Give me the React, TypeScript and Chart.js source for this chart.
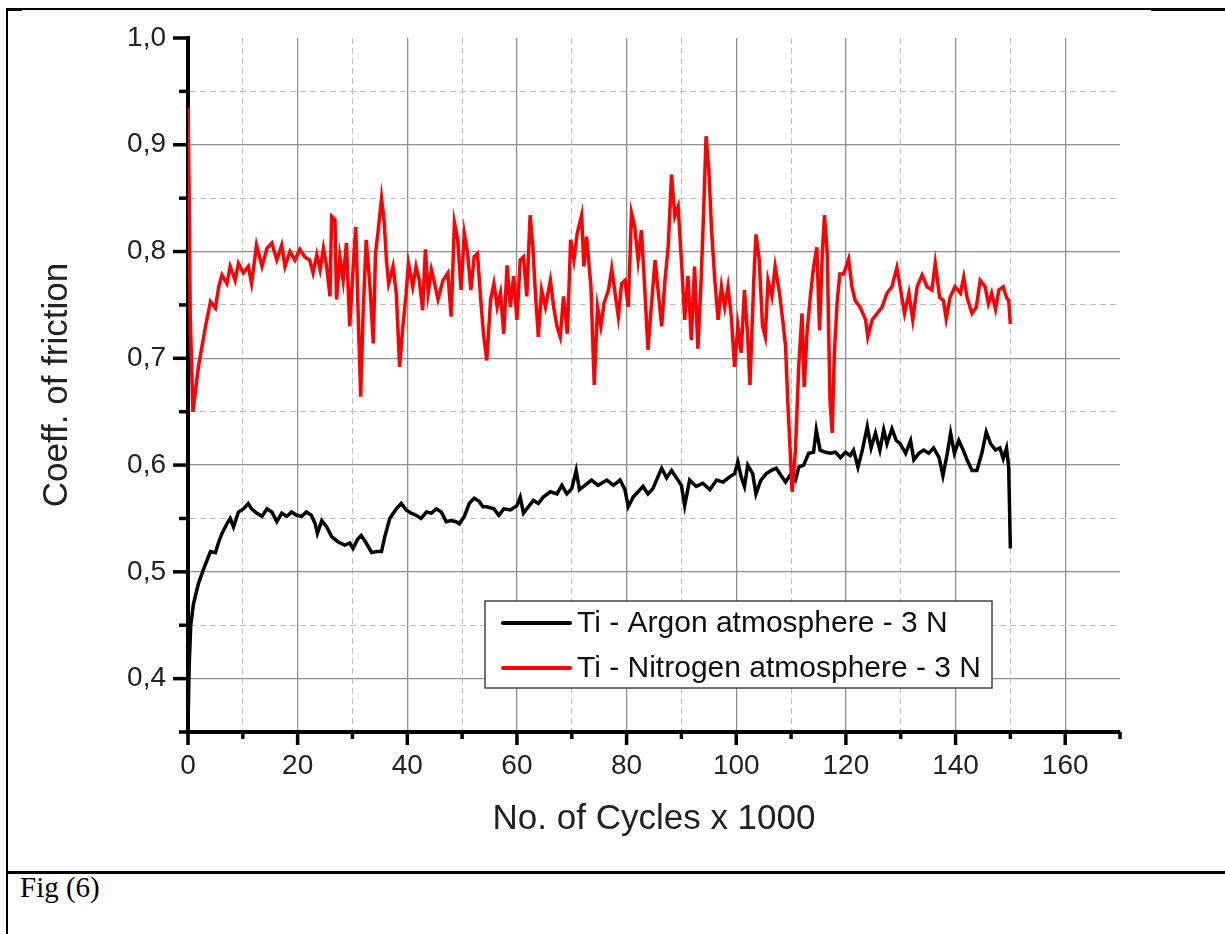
import React, { useEffect, useRef } from 'react';
import { Chart, registerables } from 'chart.js';

Chart.register(...registerables);

// ---- Data ----
const argonLabel = 'Ti - Argon atmosphere - 3 N';
const nitrogenLabel = 'Ti - Nitrogen atmosphere - 3 N';
const xTitle = 'No. of Cycles x 1000';
const yTitle = 'Coeff. of friction';
const caption = 'Fig (6)';

const xMin = 0;
const xMax = 170;
const xStep = 10;
const xMajorStep = 20;
const yMin = 0.35;
const yMax = 1.0;
const yStep = 0.05;

const argonX = [
  0, 0.2, 0.5, 1.0, 1.9, 2.8, 4.1, 5, 5.6, 6.2, 7.1, 7.7, 8.3, 9.2, 10.1, 11, 11.6, 12.5, 13.5, 14.4,
  15.3, 16.2, 17.1, 18, 18.9, 19.8, 20.7, 21.6, 22.5, 23.2, 23.6, 24.4, 25.3, 26.2, 27.4, 28.6, 29.5, 30.1, 31, 31.6,
  32.5, 33.5, 34.4, 35.3, 35.9, 36.8, 38, 38.9, 39.8, 40.7, 41.6, 42.5, 43.5, 44.4, 45.3, 46.2, 47.1, 48, 48.9, 49.5,
  50.4, 51.3, 52.2, 53.1, 53.8, 54.5, 55.8, 56.7, 57.6, 58.8, 60, 60.6, 61.2, 62.1, 63, 63.9, 64.8, 66.1, 67.3, 68.2,
  69.1, 70, 70.8, 71.4, 72.4, 73.6, 74.8, 76.4, 77.6, 78.8, 79.7, 80.3, 81.2, 82.1, 83, 83.9, 84.8, 85.8, 86.4, 87.3,
  88.2, 89.1, 90, 90.6, 91.5, 92.7, 93.9, 95.2, 96.4, 97.6, 98.8, 99.7, 100.3, 100.9, 101.5, 102.1, 103, 103.6, 104.5, 105.5,
  106.4, 107.3, 108.2, 109, 110, 110.8, 111.4, 112.3, 113.2, 114.1, 114.6, 115.3, 116.3, 117.2, 118.1, 119, 119.9, 120.8, 121.4, 122.2,
  123, 123.9, 124.6, 125.4, 126.2, 126.9, 127.5, 128.4, 129.2, 129.9, 130.9, 131.8, 132.4, 133.3, 134.2, 135.1, 136, 137, 137.7, 138.5,
  139.1, 139.8, 140.6, 141.4, 142.1, 143, 143.9, 144.8, 145.6, 146.4, 147.3, 148.1, 148.7, 149.3, 149.7, 150,
];
const argonY = [
  0.355, 0.41, 0.45, 0.47, 0.489, 0.502, 0.519, 0.518, 0.528, 0.536, 0.545, 0.55, 0.542, 0.556, 0.559, 0.564, 0.559, 0.555, 0.552, 0.559,
  0.556, 0.547, 0.555, 0.552, 0.556, 0.553, 0.552, 0.556, 0.553, 0.545, 0.536, 0.548, 0.542, 0.533, 0.528, 0.525, 0.527, 0.522, 0.531, 0.534,
  0.527, 0.518, 0.519, 0.519, 0.533, 0.55, 0.559, 0.564, 0.558, 0.555, 0.553, 0.55, 0.556, 0.555, 0.559, 0.556, 0.547, 0.548, 0.547, 0.545,
  0.552, 0.564, 0.569, 0.566, 0.561, 0.561, 0.559, 0.553, 0.559, 0.558, 0.562, 0.57, 0.555, 0.561, 0.567, 0.564, 0.57, 0.575, 0.573, 0.581,
  0.573, 0.578, 0.595, 0.577, 0.581, 0.586, 0.581, 0.586, 0.581, 0.586, 0.577, 0.561, 0.57, 0.575, 0.58, 0.573, 0.578, 0.59, 0.597, 0.588,
  0.595, 0.588, 0.581, 0.562, 0.586, 0.58, 0.583, 0.577, 0.586, 0.584, 0.589, 0.592, 0.603, 0.589, 0.58, 0.6, 0.592, 0.573, 0.586, 0.592,
  0.595, 0.597, 0.59, 0.584, 0.592, 0.586, 0.598, 0.6, 0.611, 0.612, 0.633, 0.614, 0.612, 0.611, 0.612, 0.607, 0.612, 0.609, 0.614, 0.598,
  0.614, 0.636, 0.616, 0.63, 0.614, 0.633, 0.62, 0.634, 0.623, 0.62, 0.611, 0.623, 0.605, 0.611, 0.614, 0.611, 0.616, 0.607, 0.59, 0.611,
  0.63, 0.611, 0.623, 0.614, 0.605, 0.595, 0.595, 0.611, 0.631, 0.62, 0.614, 0.616, 0.606, 0.616, 0.598, 0.522,
];

const nitrogenX = [
  0, 0.2, 0.4, 0.9, 1.9, 3.2, 4.1, 5, 5.6, 6.2, 7.1, 7.7, 8.6, 9.2, 10.1, 11, 11.6, 12.5, 13.5, 14.4,
  15.3, 16.2, 17.1, 17.7, 18.6, 19.5, 20.4, 21.3, 22.2, 22.8, 23.5, 24.1, 24.7, 25.3, 25.9, 26.2, 26.8, 27.1, 27.7, 28.3,
  28.9, 29.5, 30.1, 30.6, 31, 31.5, 31.9, 32.5, 33.2, 33.8, 34.2, 34.7, 35.3, 35.8, 36.2, 36.6, 37.4, 38, 38.6, 39.2,
  39.8, 40.2, 41, 41.6, 42.2, 42.8, 43.3, 43.8, 44.4, 45, 45.6, 46.5, 47.4, 48, 48.6, 49.2, 49.8, 50.4, 51, 51.6,
  52.2, 52.8, 53.5, 53.9, 54.5, 55.2, 55.8, 56.4, 57, 57.6, 58.2, 58.8, 59.4, 60, 60.6, 61.2, 61.8, 62.4, 62.9, 63.3,
  63.9, 64.5, 65.2, 66.1, 66.7, 67.3, 67.9, 68.5, 69.2, 69.8, 70.4, 71, 71.8, 72.2, 72.7, 73.5, 74.1, 74.7, 75.3, 75.9,
  76.7, 77.3, 77.9, 78.5, 79.1, 79.7, 80.3, 80.9, 81.5, 82.1, 82.7, 83.3, 83.9, 84.5, 85.2, 85.8, 86.4, 87, 87.6, 88.2,
  88.8, 89.4, 90, 90.6, 91.2, 91.8, 92.4, 93, 93.6, 94.1, 94.5, 95, 95.5, 96.1, 96.7, 97.3, 97.9, 98.5, 99.1, 99.7,
  100.3, 100.9, 101.5, 102.1, 102.5, 103.2, 103.6, 104.2, 104.8, 105.3, 105.8, 106.5, 107.1, 107.9, 108.5, 109, 109.4, 110.2, 110.8, 111.4,
  112, 112.4, 112.9, 113.5, 114.1, 114.7, 115.2, 115.7, 116.1, 116.6, 117.1, 117.5, 117.9, 118.4, 118.9, 119.6, 120.5, 121.1, 121.7, 122.6,
  123.6, 124, 124.8, 125.7, 126.6, 127.5, 128.4, 129.3, 129.9, 130.7, 131.5, 132.2, 133, 133.9, 134.8, 135.7, 136.3, 137.1, 137.8, 138.3,
  139, 139.9, 140.9, 141.5, 142.1, 143, 143.8, 144.5, 145.4, 146, 146.6, 147.3, 147.9, 148.7, 149.3, 149.7, 150,
];
const nitrogenY = [
  0.935, 0.86, 0.74, 0.65, 0.692, 0.73, 0.753, 0.747, 0.767, 0.778, 0.77, 0.786, 0.773, 0.789, 0.78, 0.786, 0.77, 0.806, 0.786, 0.803,
  0.808, 0.792, 0.806, 0.786, 0.8, 0.792, 0.802, 0.795, 0.792, 0.78, 0.797, 0.783, 0.803, 0.786, 0.758, 0.833, 0.83, 0.755, 0.795, 0.773,
  0.808, 0.73, 0.783, 0.823, 0.748, 0.664, 0.736, 0.811, 0.767, 0.714, 0.798, 0.82, 0.85, 0.827, 0.792, 0.77, 0.786, 0.761, 0.692, 0.73,
  0.761, 0.789, 0.767, 0.786, 0.773, 0.745, 0.802, 0.761, 0.783, 0.77, 0.755, 0.773, 0.78, 0.739, 0.827, 0.811, 0.764, 0.817, 0.798, 0.764,
  0.795, 0.798, 0.748, 0.723, 0.698, 0.755, 0.77, 0.748, 0.761, 0.723, 0.787, 0.748, 0.777, 0.736, 0.792, 0.795, 0.758, 0.834, 0.805, 0.767,
  0.72, 0.764, 0.748, 0.773, 0.748, 0.73, 0.72, 0.758, 0.723, 0.811, 0.792, 0.817, 0.834, 0.786, 0.814, 0.767, 0.675, 0.748, 0.73, 0.752,
  0.764, 0.784, 0.761, 0.739, 0.77, 0.773, 0.748, 0.836, 0.823, 0.792, 0.82, 0.767, 0.708, 0.748, 0.792, 0.761, 0.73, 0.773, 0.805, 0.872,
  0.833, 0.842, 0.792, 0.736, 0.777, 0.717, 0.786, 0.709, 0.773, 0.845, 0.908, 0.877, 0.82, 0.773, 0.736, 0.767, 0.748, 0.767, 0.739, 0.692,
  0.73, 0.705, 0.764, 0.72, 0.675, 0.773, 0.816, 0.792, 0.73, 0.72, 0.773, 0.758, 0.786, 0.761, 0.735, 0.711, 0.66, 0.575, 0.614, 0.692,
  0.742, 0.673, 0.723, 0.757, 0.785, 0.804, 0.726, 0.798, 0.834, 0.798, 0.661, 0.63, 0.705, 0.752, 0.779, 0.779, 0.793, 0.767, 0.754, 0.748,
  0.736, 0.72, 0.736, 0.742, 0.748, 0.761, 0.767, 0.785, 0.767, 0.742, 0.761, 0.736, 0.767, 0.778, 0.767, 0.764, 0.789, 0.757, 0.754, 0.737,
  0.757, 0.767, 0.761, 0.776, 0.757, 0.742, 0.748, 0.773, 0.767, 0.751, 0.761, 0.746, 0.764, 0.767, 0.757, 0.754, 0.732,
];

// ---- helpers ----
const FONT = '"Liberation Sans", Arial, Helvetica, sans-serif';
const isMajorX = (v: number) => Math.abs(v / xMajorStep - Math.round(v / xMajorStep)) < 1e-6;
const isMajorY = (v: number) => Math.abs(v * 10 - Math.round(v * 10)) < 1e-6;
const fmtY = (v: number) => v.toFixed(1).replace('.', ',');

const MAJOR_GRID = '#8f8f8f';
const MINOR_GRID = '#bdbdbd';

const tickMarksPlugin = {
  id: 'tickMarks',
  afterDraw(chart: any) {
    const { ctx, chartArea } = chart;
    const xs = chart.scales.x;
    const ys = chart.scales.y;
    ctx.save();
    ctx.strokeStyle = '#000';
    ctx.lineWidth = 3.5;
    ctx.lineCap = 'butt';
    ys.ticks.forEach((t: any) => {
      const p = ys.getPixelForValue(t.value);
      const len = isMajorY(t.value) ? 15 : 9;
      ctx.beginPath();
      ctx.moveTo(chartArea.left, p);
      ctx.lineTo(chartArea.left - len, p);
      ctx.stroke();
    });
    xs.ticks.forEach((t: any) => {
      const p = xs.getPixelForValue(t.value);
      const len = isMajorX(t.value) ? 13 : 7;
      ctx.beginPath();
      ctx.moveTo(p, chartArea.bottom);
      ctx.lineTo(p, chartArea.bottom + len);
      ctx.stroke();
    });
    ctx.restore();
  },
};

const boxLegendPlugin = {
  id: 'boxLegend',
  afterDatasetsDraw(chart: any) {
    const { ctx, chartArea } = chart;
    const x = chartArea.left + 297;
    const y = chartArea.top + 563;
    const w = 507;
    const h = 87;
    ctx.save();
    ctx.fillStyle = '#ffffff';
    ctx.fillRect(x, y, w, h);
    ctx.strokeStyle = '#444';
    ctx.lineWidth = 1.5;
    ctx.strokeRect(x, y, w, h);
    chart.data.datasets.forEach((ds: any, i: number) => {
      const cy = y + 22 + i * 45;
      ctx.strokeStyle = ds.borderColor;
      ctx.lineWidth = 4;
      ctx.lineCap = 'round';
      ctx.beginPath();
      ctx.moveTo(x + 18, cy);
      ctx.lineTo(x + 85, cy);
      ctx.stroke();
      ctx.fillStyle = '#111';
      ctx.font = `30px ${FONT}`;
      ctx.textBaseline = 'middle';
      ctx.textAlign = 'left';
      ctx.fillText(ds.label, x + 92, cy + 1);
    });
    ctx.restore();
  },
};

export default function App() {
  const canvasRef = useRef<HTMLCanvasElement | null>(null);

  useEffect(() => {
    document.body.style.overflow = 'hidden';
    const canvas = canvasRef.current;
    if (!canvas) return;
    Chart.defaults.font.family = FONT;
    const chart = new Chart(canvas, {
      type: 'line',
      data: {
        datasets: [
          {
            label: argonLabel,
            data: argonX.map((x, i) => ({ x, y: argonY[i] })),
            borderColor: '#000000',
            borderWidth: 3.5,
            pointRadius: 0,
            tension: 0,
            fill: false,
            order: 2,
          },
          {
            label: nitrogenLabel,
            data: nitrogenX.map((x, i) => ({ x, y: nitrogenY[i] })),
            borderColor: '#ff0000',
            borderWidth: 3.5,
            pointRadius: 0,
            tension: 0,
            fill: false,
            order: 1,
          },
        ],
      },
      options: {
        responsive: false,
        animation: false,
        events: [],
        layout: { padding: { top: 28, right: 105, left: 0, bottom: 0 } },
        plugins: {
          legend: { display: false },
          tooltip: { enabled: false },
        },
        scales: {
          x: {
            type: 'linear',
            min: xMin,
            max: xMax,
            afterFit: (scale: any) => {
              scale.height = 139;
              scale.paddingLeft = 0;
              scale.paddingRight = 0;
            },
            ticks: {
              stepSize: xStep,
              autoSkip: false,
              maxRotation: 0,
              padding: 17,
              color: '#222',
              font: { size: 28 },
              callback: (v: any) => (isMajorX(Number(v)) ? String(v) : ''),
            },
            grid: {
              drawTicks: false,
              color: (c: any) => {
                const v = c.tick ? c.tick.value : undefined;
                if (v === undefined || v <= xMin || v >= xMax) return 'rgba(0,0,0,0)';
                return isMajorX(v) ? MAJOR_GRID : MINOR_GRID;
              },
              lineWidth: (c: any) => (c.tick && isMajorX(c.tick.value) ? 1.3 : 1),
            },
            border: {
              display: true,
              color: '#000',
              width: 4,
              dash: (c: any) => (c.tick && !isMajorX(c.tick.value) ? [6, 4] : []),
            },
            title: {
              display: true,
              text: xTitle,
              color: '#222',
              font: { size: 35 },
              padding: { top: 0, bottom: 31 },
            },
          },
          y: {
            type: 'linear',
            min: yMin,
            max: yMax,
            afterFit: (scale: any) => {
              scale.width = 178;
              scale.paddingTop = 0;
              scale.paddingBottom = 0;
            },
            ticks: {
              stepSize: yStep,
              autoSkip: false,
              padding: 22,
              color: '#222',
              font: { size: 28 },
              callback: (v: any) => (isMajorY(Number(v)) ? fmtY(Number(v)) : ''),
            },
            grid: {
              drawTicks: false,
              color: (c: any) => {
                const v = c.tick ? c.tick.value : undefined;
                if (v === undefined || v <= yMin + 1e-9 || v >= yMax - 1e-9) return 'rgba(0,0,0,0)';
                return isMajorY(v) ? MAJOR_GRID : MINOR_GRID;
              },
              lineWidth: (c: any) => (c.tick && isMajorY(c.tick.value) ? 1.3 : 1),
            },
            border: {
              display: true,
              color: '#000',
              width: 4,
              dash: (c: any) => (c.tick && !isMajorY(c.tick.value) ? [6, 4] : []),
            },
            title: {
              display: true,
              text: yTitle,
              color: '#222',
              font: { size: 35 },
              padding: { top: 26, bottom: 0 },
            },
          },
        },
      },
      plugins: [tickMarksPlugin, boxLegendPlugin],
    } as any);
    return () => chart.destroy();
  }, []);

  const abs = (s: React.CSSProperties): React.CSSProperties => ({ position: 'absolute', ...s });

  return (
    <div>
      <div style={abs({ left: 6, top: 8, width: 1219, height: 2, background: '#000' })} />
      <div style={abs({ left: 6, top: 8, width: 16, height: 3, background: '#000' })} />
      <div style={abs({ left: 1151, top: 8, width: 74, height: 3, background: '#000' })} />
      <div style={abs({ left: 6, top: 8, width: 2, height: 926, background: '#000' })} />
      <canvas
        ref={canvasRef}
        width={1215}
        height={861}
        style={abs({ left: 10, top: 10, width: 1215, height: 861, display: 'block' })}
      />
      <div style={abs({ left: 6, top: 871, width: 1219, height: 3, background: '#000' })} />
      <div
        style={abs({
          left: 20,
          top: 873,
          fontFamily: '"Liberation Serif", "Times New Roman", serif',
          fontSize: 29,
          lineHeight: '29px',
          color: '#000',
          whiteSpace: 'nowrap',
        })}
      >
        {caption}
      </div>
    </div>
  );
}
